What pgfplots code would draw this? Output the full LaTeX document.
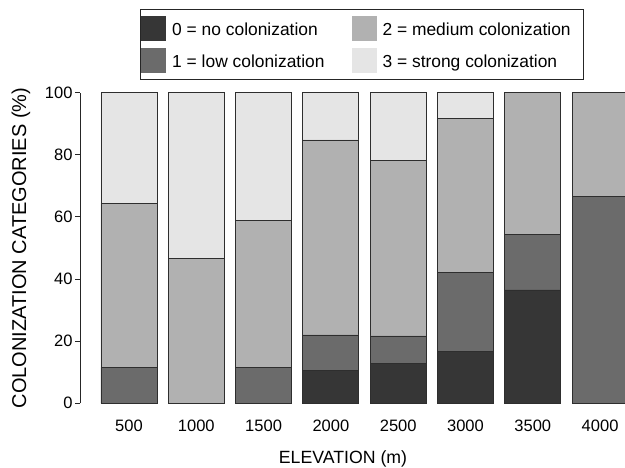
\documentclass[border=0pt]{standalone}
\usepackage{pgfplots}
\usepackage{pgfplotstable}
\usepackage{fontspec}
\setmainfont{Liberation Sans}
\pgfplotsset{compat=1.18}

\definecolor{c0}{HTML}{363636}
\definecolor{c1}{HTML}{6B6B6B}
\definecolor{c2}{HTML}{B1B1B1}
\definecolor{c3}{HTML}{E5E5E5}
\definecolor{edge}{HTML}{2E2E2E}

% elevation index, share of each colonization category (%)
\pgfplotstableread{
x none low medium strong
0 0    11.6 52.8 35.6
1 0    0    46.7 53.3
2 0    11.6 47.2 41.2
3 10.7 11.3 62.8 15.2
4 12.9 8.8  56.6 21.7
5 16.6 25.4 49.8 8.2
6 36.5 18.0 45.5 0
7 0    66.5 33.5 0
}\colon

\begin{document}
\begin{tikzpicture}
\useasboundingbox (0,0) rectangle (625pt,467pt);
\begin{axis}[
    at={(80pt,63.7pt)}, anchor=south west,
    scale only axis,
    width=545pt, height=310.6pt,
    ybar stacked,
    bar width=56pt,
    clip=false,
    xmin=-0.728, xmax=7.37,
    ymin=0, ymax=100,
    xtick={0,...,7},
    xticklabels={500,1000,1500,2000,2500,3000,3500,4000},
    ytick={0,20,...,100},
    axis lines=left,
    x axis line style={draw=none},
    y axis line style={-, line width=0.9pt, draw=black!85},
    xtick style={draw=none},
    ytick style={line width=0.9pt, draw=black!85},
    tick align=outside,
    major tick length=5pt,
    /pgf/number format/assume math mode=true,
    ticklabel style={font=\fontsize{16.5}{18}\selectfont},
    xticklabel style={anchor=base, yshift=-23.5pt},
    yticklabel style={xshift=1pt},
    xlabel={ELEVATION (m)},
    ylabel={COLONIZATION CATEGORIES (\%)},
    xlabel style={font=\fontsize{17.7}{20}\selectfont, at={(axis description cs:0.4826,-0.179)}, anchor=center},
    ylabel style={font=\fontsize{20}{22}\selectfont, at={(axis description cs:-0.1083,0.5)}, anchor=center},
    every axis plot/.append style={draw=edge, line width=0.8pt},
    legend columns=2,
    legend cell align=left,
    legend style={at={(0.1083,1.2695)}, anchor=north west,
        draw=none, fill=none,
        font=\fontsize{17.4}{20}\selectfont,
        inner xsep=2pt, inner ysep=7pt,
        nodes={inner xsep=0pt},
        row sep=7pt,
        /tikz/every odd column/.append style={column sep=6pt},
        /tikz/every even column/.append style={column sep=27pt}},
    legend image code/.code={\fill[#1, draw=none] (0pt,-11pt) rectangle (25pt,14pt);},
]
\addplot[fill=c0, forget plot] table[x=x, y=none] {\colon};
\addplot[fill=c1, forget plot] table[x=x, y=low] {\colon};
\addplot[fill=c2, forget plot] table[x=x, y=medium] {\colon};
\addplot[fill=c3, forget plot] table[x=x, y=strong] {\colon};
\addlegendimage{fill=c0}
\addlegendentry{0 = no colonization}
\addlegendimage{fill=c2}
\addlegendentry{2 = medium colonization}
\addlegendimage{fill=c1}
\addlegendentry{1 = low colonization}
\addlegendimage{fill=c3}
\addlegendentry{3 = strong colonization}
% legend frame
\draw[black!85, line width=0.9pt] (axis description cs:0.1101,1.2695) rectangle (axis description cs:0.9229,1.0441);
\end{axis}
\end{tikzpicture}
\end{document}
